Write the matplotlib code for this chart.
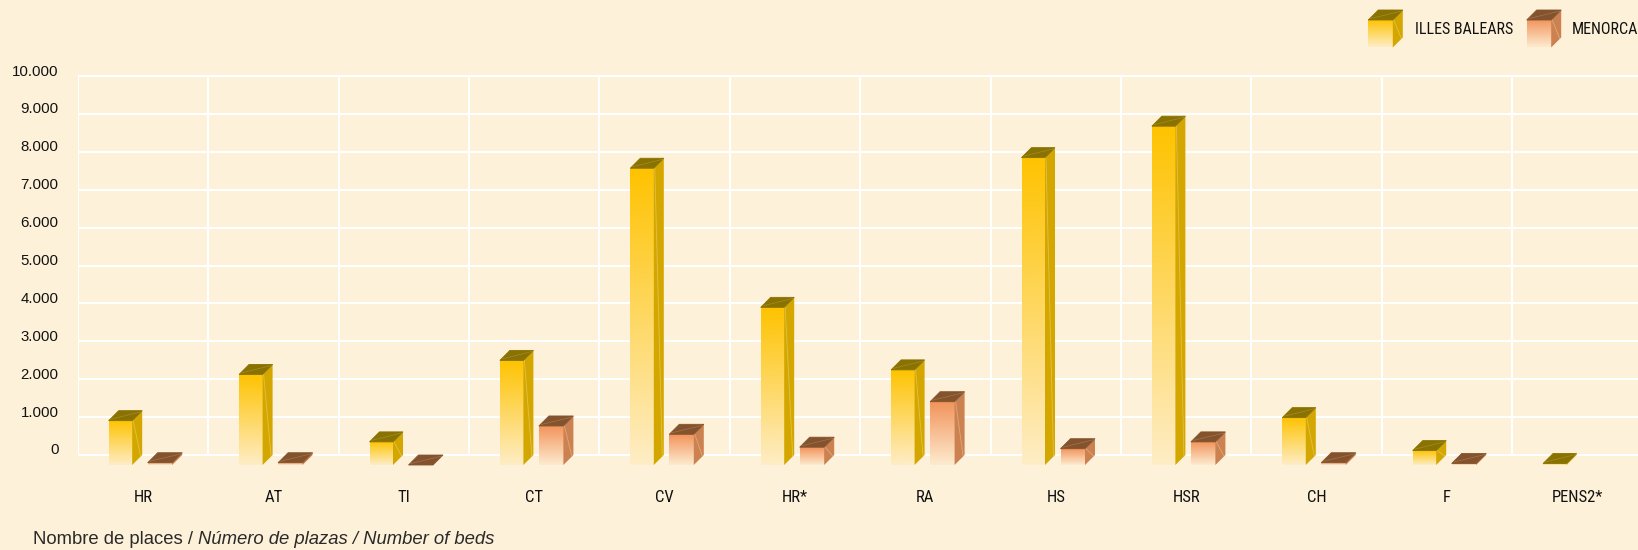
#! /usr/bin/python

#
# Description: Nombre de places per tipus d'establiment, Illes Balears vs Menorca
# Drawn as pseudo 3D columns (front face with gradient, side face, top face)
#

import logging

# Gets rid of matplot logging DEBUG messages
plt_logger = logging.getLogger('matplotlib')
plt_logger.setLevel(logging.WARNING)

import matplotlib
matplotlib.use('Agg')
import matplotlib.pyplot as plt
import matplotlib.transforms as mtransforms
from matplotlib import font_manager
from matplotlib.patches import Polygon
from matplotlib.colors import LinearSegmentedColormap
import numpy as np

categories = ['HR', 'AT', 'TI', 'CT', 'CV', 'HR*', 'RA', 'HS', 'HSR', 'CH', 'F', 'PENS2*']
illes_balears = [1170, 2390, 610, 2760, 7830, 4160, 2510, 8110, 8940, 1250, 380, 40]
menorca = [60, 60, 0, 1030, 810, 470, 1670, 430, 610, 60, 40, None]
series_names = ['ILLES BALEARS', 'MENORCA']
ytick_values = [0, 1000, 2000, 3000, 4000, 5000, 6000, 7000, 8000, 9000, 10000]
ytick_labels = ['0', '1.000', '2.000', '3.000', '4.000', '5.000',
                '6.000', '7.000', '8.000', '9.000', '10.000']
caption_plain = 'Nombre de places / '
caption_italic = 'Número de plazas / Number of beds'

BG = '#FEF1D9'
TXT = '#121212'

# colours per series : front top, front bottom, side, top
styles = {
    'ILLES BALEARS': dict(ftop='#FEC300', fbot='#FEEDC6', side='#D4A700', top='#8A7200'),
    'MENORCA': dict(ftop='#F2935A', fbot='#FDEBCF', side='#CC8150', top='#84532D'),
}

# figure geometry in pixels
W, H = 1638, 550
AX_LEFT = 77.7       # left edge of plot wall
ZERO_Y = 455.0       # y (from top) of the 0 gridline
CAT_PX = 130.4       # pixels per category
PX_PER_UNIT = 0.0379 # pixels per bed
DEPTH = 10.0         # 3D depth in pixels
YMIN, YMAX = -800, 10100

# front face left offset and width inside a category (pixels)
bar_slots = {'ILLES BALEARS': (31.0, 23.5), 'MENORCA': (70.0, 24.5)}


# Look for a narrow face for the category / legend labels
def narrow_font():
    fonts = font_manager.fontManager.ttflist
    names = {f.name for f in fonts}
    for fam in ['Liberation Sans Narrow', 'Roboto Condensed', 'Open Sans Condensed',
                'Noto Sans Condensed', 'DejaVu Sans Condensed']:
        if fam in names:
            return dict(family=fam), 1.0
    for fam in ['Noto Sans', 'DejaVu Sans', 'Roboto', 'Open Sans']:
        for f in fonts:
            if f.name == fam and f.stretch in ('condensed', 'semi-condensed') \
                    and f.style == 'normal' and f.weight in (400, 'normal', 'regular'):
                return dict(family=fam, fontstretch=f.stretch), 1.0
    return dict(family='Liberation Sans'), 0.88


def gradient_cmap(st):
    return LinearSegmentedColormap.from_list('g', [st['fbot'], st['ftop']])


GRAD = np.linspace(0, 1, 256).reshape(-1, 1)


def draw_cube(ax, x0, w, ybot, ytop, dx, dy, st, z=3):
    # front face with vertical gradient
    ax.imshow(GRAD, cmap=gradient_cmap(st), origin='lower', aspect='auto',
              extent=(x0, x0 + w, ybot, ytop), interpolation='bilinear', zorder=z)
    # side face
    side = Polygon([(x0 + w, ybot), (x0 + w + dx, ybot + dy),
                    (x0 + w + dx, ytop + dy), (x0 + w, ytop)],
                   closed=True, facecolor=st['side'], edgecolor='none', zorder=z)
    ax.add_patch(side)
    # top face
    top = Polygon([(x0, ytop), (x0 + w, ytop), (x0 + w + dx, ytop + dy), (x0 + dx, ytop + dy)],
                  closed=True, facecolor=st['top'], edgecolor=st['top'], lw=0.6, zorder=z + 0.1)
    ax.add_patch(top)
    # faint highlight lines
    ax.plot([x0 + 0.1 * w, x0 + w + 0.9 * dx], [ytop + 0.15 * dy, ytop + 0.9 * dy],
            color='#D9C79A', lw=0.5, alpha=0.3, zorder=z + 0.2)
    if abs(ytop - ybot) > abs(dy) * 0.8:
        ax.plot([x0 + w + 0.1 * dx, x0 + w + 0.85 * dx], [ytop, ybot + dy * 0.9],
                color='#F6E7B8', lw=0.6, alpha=0.4, zorder=z + 0.2)


def main():

    fig = plt.figure(figsize=(W / 100, H / 100), dpi=100, facecolor=BG)
    nfont, nscale = narrow_font()

    ax_bot = (H - ZERO_Y) + YMIN * PX_PER_UNIT
    ax_h = (YMAX - YMIN) * PX_PER_UNIT
    ax = fig.add_axes([AX_LEFT / W, ax_bot / H, (W - AX_LEFT) / W, ax_h / H])
    ax.set_facecolor(BG)
    xmax = -0.5 + (W - AX_LEFT) / CAT_PX

    # back wall grid
    ax.hlines(ytick_values, -0.5, xmax, color='white', lw=1.5, zorder=1)
    ax.vlines(np.arange(-0.5, len(categories)), 0, 10000, color='white', lw=1.5, zorder=1)

    dx = DEPTH / CAT_PX
    dy = DEPTH / PX_PER_UNIT

    for name, values in zip(series_names, [illes_balears, menorca]):
        off, wpx = bar_slots[name]
        for i, v in enumerate(values):
            if v is None:
                continue
            x0 = i - 0.5 + off / CAT_PX
            draw_cube(ax, x0, wpx / CAT_PX, -dy, v - dy, dx, dy, styles[name])

    # y labels sit a little above their gridline
    ylab_tr = mtransforms.offset_copy(ax.transData, fig=fig, x=-19, y=4.5, units='dots')
    for v, lab in zip(ytick_values, ytick_labels):
        ax.text(-0.5, v, lab, transform=ylab_tr, ha='right', va='center',
                fontsize=10.8, color=TXT, family='Liberation Sans', clip_on=False)

    # category labels
    xlab_tr = mtransforms.blended_transform_factory(ax.transData, fig.transFigure)
    for i, c in enumerate(categories):
        ax.text(i, 1 - 497 / H, c, transform=xlab_tr, ha='center', va='center',
                fontsize=12 * nscale, color=TXT, **nfont)

    ax.set_xlim(-0.5, xmax)
    ax.set_ylim(YMIN, YMAX)
    ax.axis('off')

    # overlay in pixel coordinates for legend and caption
    ov = fig.add_axes([0, 0, 1, 1], facecolor='none')
    legend_pos = {'ILLES BALEARS': (1368.3, 1415.0), 'MENORCA': (1526.7, 1571.7)}
    for name in series_names:
        cx, tx = legend_pos[name]
        draw_cube(ov, cx, 24.5, 47.5, 20.0, 10.0, -10.0, styles[name], z=3)
        ov.text(tx, 29.5, name, ha='left', va='center', fontsize=11.5 * nscale,
                color=TXT, **nfont)
    ov.set_xlim(0, W)
    ov.set_ylim(H, 0)
    ov.axis('off')

    t1 = ov.text(33, 539, caption_plain, ha='left', va='center', fontsize=13.3,
                 color='#2a2a2a', family='Liberation Sans')
    ov.annotate(caption_italic, xy=(1, 0.5), xycoords=t1, ha='left', va='center',
                fontsize=13.3, color='#2a2a2a', family='Liberation Sans', style='italic')

    fig.savefig('out.png', dpi=100, facecolor=BG)


if __name__ == '__main__': main()
